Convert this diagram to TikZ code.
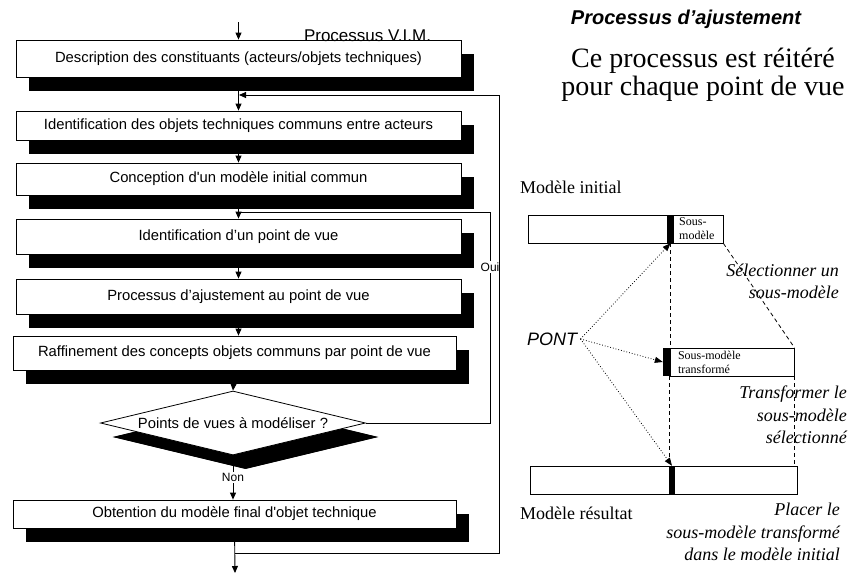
\documentclass[tikz,border=0pt]{standalone}
\usepackage{fontspec}
\setmainfont{Liberation Serif}
\setsansfont{Liberation Sans}
\usepackage{tikz}
\usetikzlibrary{arrows.meta,positioning,shapes.geometric,shadows,calc}
\tikzset{
  flowarrow/.style={-{Triangle[length=7pt,width=6pt]}, line width=0.9pt, draw=black},
  flowline/.style={line width=0.9pt, draw=black},
  pontarrow/.style={-{Triangle[length=8pt,width=6pt]}, dotted, line width=0.8pt},
  guideline/.style={dashed, dash pattern=on 4pt off 3pt, line width=0.8pt},
  branchlabel/.style={font=\sffamily\fontsize{12}{12}\selectfont, fill=white, inner sep=1.5pt}
}

\begin{document}
\begin{tikzpicture}[x=1pt, y=-1pt,
  stepbox/.style={draw, line width=0.8pt, fill=white, minimum width=445pt, minimum height=35pt,
    inner sep=0pt, font=\sffamily\fontsize{14.8}{16}\selectfont,
    drop shadow={shadow xshift=13pt, shadow yshift=-14pt, fill=black, opacity=1}},
  testbox/.style={stepbox, shape=diamond, aspect=4.14, minimum width=265pt, minimum height=64pt,
    drop shadow={shadow xshift=12pt, shadow yshift=-14pt, fill=black, opacity=1}},
  modelbar/.style={draw, line width=0.8pt, fill=white, minimum height=28pt, inner sep=0pt},
  pontbar/.style={fill=black, minimum height=28pt, inner sep=0pt},
  serifnote/.style={font=\fontsize{18}{22.5}\selectfont, inner sep=2pt},
  stepnote/.style={serifnote, font=\itshape\fontsize{18}{22.5}\selectfont, align=right}
]
\useasboundingbox (0,0) rectangle (851,574);

% Processus V.I.M. : chaine de boites avec ombre portee
\node[stepbox, minimum height=37pt] at (238.5,58.5) (desc) {Description des constituants (acteurs/objets techniques)};
\node[stepbox, minimum height=29pt] at (238.5,125.5) (ident) {Identification des objets techniques communs entre acteurs};
\node[stepbox, minimum height=32pt] at (238.5,179) (concept) {Conception d\textquotesingle un modèle initial commun};
\node[stepbox] at (238.5,236.5) (pdv) {Identification d’un point de vue};
\node[stepbox] at (238.5,296.5) (ajust) {Processus d’ajustement au point de vue};
\node[stepbox, minimum width=443pt, minimum height=34pt] at (234.5,353) (raffin) {Raffinement des concepts objets communs par point de vue};
\node[testbox] at (233,423) (choix) {Points de vues à modéliser ?};
\node[stepbox, minimum width=443pt, minimum height=28pt] at (234.5,514) (final) {Obtention du modèle final d\textquotesingle objet technique};
\node[font=\sffamily\fontsize{17}{17}\selectfont] at (367.5,36) (vimtitle) {Processus V.I.M.};

\coordinate (debut) at (238.5,22);
\coordinate (loopin) at (239,95);
\coordinate (ouitop) at (490,212);
\coordinate (loopout) at (235,553);
\coordinate (fin) at (235,573);

\draw[flowarrow] (debut) -- (desc.north);
\draw[flowarrow] (desc.south) -- (ident.north);
\draw[flowarrow] (ident.south) -- (concept.north);
\draw[flowarrow] (concept.south) -- (pdv.north);
\draw[flowarrow] (pdv.south) -- (ajust.north);
\draw[flowarrow] (ajust.south) -- (ajust.south |- raffin.north);
\draw[flowarrow] (raffin.south) -- (choix.north);
\draw[flowarrow] (choix.south) -- node[branchlabel]{Non} (choix.south |- final.north);
\draw[flowarrow] (final.south) -- (fin);
\draw[flowline] (choix.east) -| node[branchlabel, pos=0.87]{Oui} (ouitop) -- (ouitop -| pdv.north);
\draw[flowarrow] (loopout) -- ++(264,0) |- (loopin);

% Processus d'ajustement
\node[font=\sffamily\bfseries\itshape\fontsize{20}{20}\selectfont] at (686,19.5) (ajusttitle) {Processus d’ajustement};
\node[align=center, font=\fontsize{28}{28}\selectfont] at (703,75) (reprise) {Ce processus est réitéré\\pour chaque point de vue};
\node[serifnote, anchor=west] at (518,187) (initlabel) {Modèle initial};

\node[modelbar, minimum width=195pt] at (625.5,229) (initbar) {};
\node[pontbar, minimum width=7pt] at (670.5,229) (pont1) {};
\node[anchor=west, align=left, inner sep=2pt, font=\fontsize{12}{14}\selectfont] at (677,229) (souslabel) {Sous-\\modèle};

\node[modelbar, minimum width=124pt, text width=108pt, align=left, inner xsep=8pt,
  font=\fontsize{12}{14}\selectfont] at (732,362) (trans) {Sous-modèle\\transformé};
\node[pontbar, minimum width=7pt] at (666.5,362) (pont2) {};

\node[modelbar, minimum width=267pt] at (663.5,480) (result) {};
\node[pontbar, minimum width=6pt] at (672,480) (pont3) {};
\node[serifnote, anchor=west] at (518,513) (resultlabel) {Modèle résultat};

\node[font=\sffamily\itshape\fontsize{18}{18}\selectfont] at (552,339) (pont) {PONT};
\draw[pontarrow] (pont.east) -- (pont1.south);
\draw[pontarrow] (pont.east) -- (pont2.west);
\draw[pontarrow] (pont.east) -- (pont3.north);

\draw[guideline] (initbar.south east) -- (trans.north east);
\draw[guideline] (pont1.south) -- (pont1.south |- trans.north);
\draw[guideline] (trans.south west) -- (trans.south west |- result.north);
\draw[guideline] (trans.south east) -- (trans.south east |- result.north);

\node[stepnote, anchor=east] at (841,281.5) (selectnote) {Sélectionner un\\sous-modèle};
\node[stepnote, anchor=east] at (849,415) (transnote) {Transformer le\\sous-modèle\\sélectionné};
\node[stepnote, anchor=east] at (842,532) (placenote) {Placer le\\sous-modèle transformé\\dans le modèle initial};
\end{tikzpicture}
\end{document}
